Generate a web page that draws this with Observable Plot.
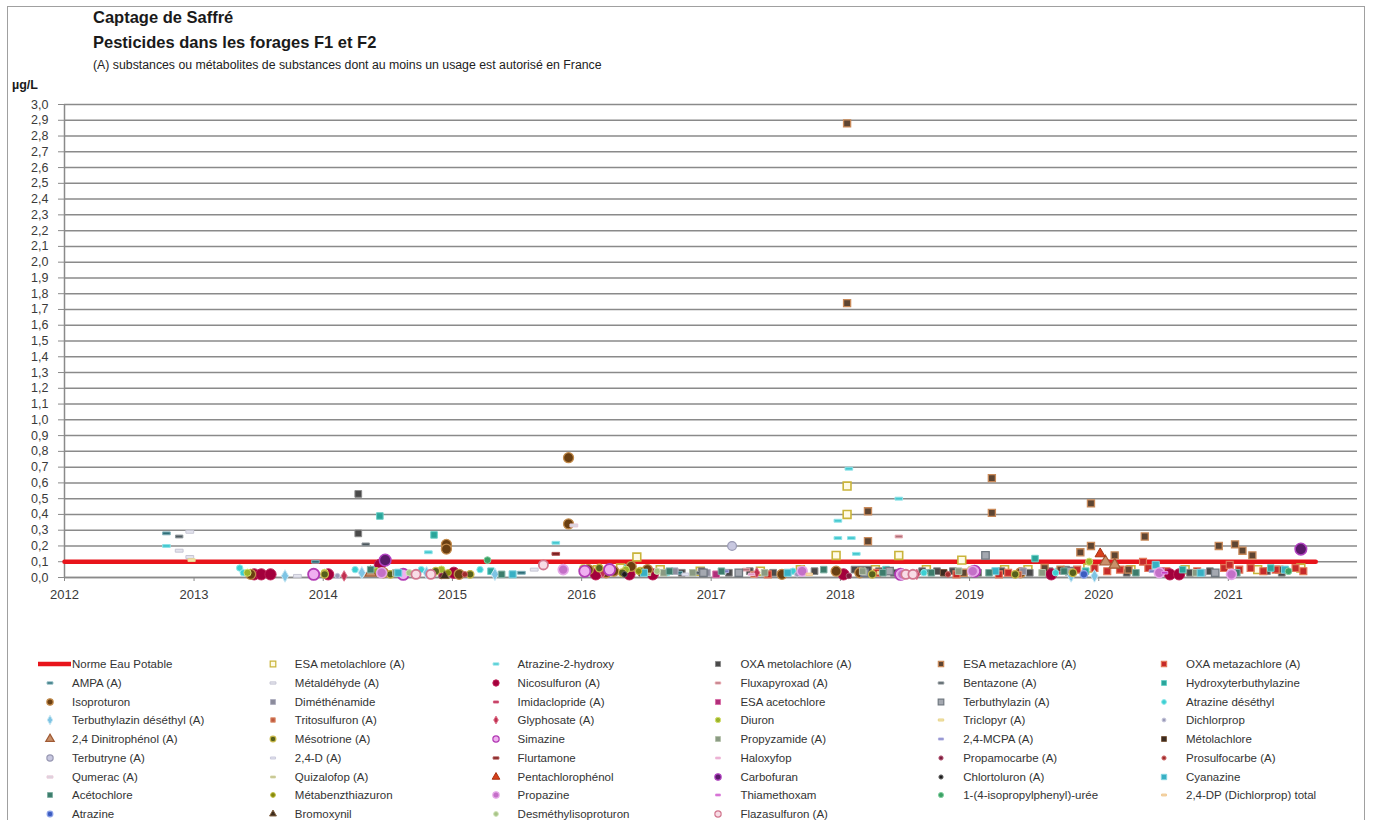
<!DOCTYPE html>
<html><head><meta charset="utf-8">
<script src="https://cdn.jsdelivr.net/npm/d3@7"></script>
<script src="https://cdn.jsdelivr.net/npm/@observablehq/plot@0.6"></script>
<style>
body{margin:0;background:#fff;font-family:"Liberation Sans",Arial,sans-serif;}
#wrap{position:relative;width:1373px;height:820px;overflow:hidden;background:#fff;}
#frame{position:absolute;left:7px;top:6px;width:1358px;height:830px;border:1.5px solid #a0a0a0;box-sizing:border-box;}
.t{position:absolute;left:93px;font-weight:bold;font-size:16.5px;color:#1a1a1a;white-space:nowrap;line-height:19px;}
.s{position:absolute;left:93px;font-size:12.3px;color:#222;white-space:nowrap;line-height:15px;}
.u{position:absolute;left:12px;font-weight:bold;font-size:12.5px;color:#1a1a1a;line-height:15px;}
#chart{position:absolute;left:0;top:80px;}
.li{position:absolute;height:16px;white-space:nowrap;font-size:11.5px;color:#333;line-height:16px;}
.li svg{position:absolute;top:1px;}
.li span{position:absolute;}
</style></head>
<body>
<div id="wrap">
<div id="frame"></div>
<div class="t" style="top:8px">Captage de Saffré</div>
<div class="t" style="top:33px">Pesticides dans les forages F1 et F2</div>
<div class="s" style="top:58px">(A) substances ou métabolites de substances dont au moins un usage est autorisé en France</div>
<div class="u" style="top:78px">µg/L</div>
<div id="chart"></div>
<div id="legend"></div>
</div>
<script>
// ---------- data ----------
const yearLabels = ["2012","2013","2014","2015","2016","2017","2018","2019","2020","2021"];
const yTickValues = [0,0.1,0.2,0.3,0.4,0.5,0.6,0.7,0.8,0.9,1.0,1.1,1.2,1.3,1.4,1.5,1.6,1.7,1.8,1.9,2.0,2.1,2.2,2.3,2.4,2.5,2.6,2.7,2.8,2.9,3.0];

const normeEauPotable = [["2012-01-01",0.1],["2021-09-05",0.1]];
const esaMetolachlore = [["2016-02-15",0.05],["2016-04-20",0.06],["2016-06-05",0.13],["2016-08-10",0.05],["2016-12-01",0.04],["2017-05-20",0.04],["2017-09-10",0.05],["2017-12-20",0.14],["2018-01-20",0.40],["2018-01-20",0.58],["2018-04-10",0.05],["2018-06-15",0.14],["2018-09-01",0.05],["2018-12-10",0.11],["2019-04-10",0.05],["2019-06-15",0.05],["2019-12-01",0.06],["2020-04-01",0.05],["2020-09-01",0.05],["2021-03-25",0.05],["2021-07-25",0.06]];
const atrazine2Hydroxy = [["2012-10-15",0.20],["2014-10-25",0.16],["2015-10-20",0.22],["2017-12-25",0.36],["2017-12-25",0.25],["2018-01-25",0.69],["2018-02-01",0.25],["2018-02-15",0.15],["2018-06-15",0.50],["2019-09-10",0.05]];
const oxaMetolachlore = [["2014-04-10",0.53],["2014-04-10",0.28],["2016-10-10",0.03],["2016-12-05",0.04],["2017-02-20",0.03],["2017-04-20",0.04],["2017-06-25",0.03],["2017-10-20",0.04],["2018-02-10",0.05],["2018-03-01",0.05],["2018-03-20",0.05],["2018-04-20",0.04],["2018-06-01",0.03],["2018-08-20",0.04],["2018-10-01",0.04],["2018-11-15",0.04],["2019-01-25",0.03],["2019-04-01",0.04],["2019-06-20",0.03],["2019-08-15",0.04],["2019-10-01",0.05],["2020-03-20",0.03],["2020-09-15",0.03],["2020-11-10",0.04],["2021-04-20",0.04],["2021-06-01",0.03]];
const esaMetazachlore = [["2018-01-20",2.88],["2018-01-20",1.74],["2018-03-20",0.42],["2018-03-20",0.23],["2018-12-15",0.03],["2019-03-05",0.63],["2019-03-05",0.41],["2019-08-01",0.06],["2019-09-15",0.05],["2019-11-10",0.16],["2019-12-10",0.47],["2019-12-10",0.20],["2020-02-15",0.14],["2020-03-25",0.05],["2020-05-10",0.26],["2020-12-05",0.20],["2021-01-20",0.21],["2021-02-10",0.17],["2021-03-10",0.14],["2021-05-25",0.05]];
const oxaMetazachlore = [["2017-06-10",0.02],["2018-04-15",0.03],["2018-11-25",0.02],["2019-03-25",0.02],["2019-04-20",0.03],["2019-11-01",0.05],["2019-12-20",0.06],["2020-01-25",0.04],["2020-03-01",0.05],["2020-05-05",0.10],["2020-05-20",0.06],["2020-07-10",0.04],["2020-10-05",0.04],["2020-12-20",0.06],["2021-01-05",0.08],["2021-02-01",0.05],["2021-03-05",0.06],["2021-04-10",0.04],["2021-05-15",0.05],["2021-07-10",0.06],["2021-08-01",0.04]];
const ampa = [["2012-10-15",0.28],["2013-12-10",0.10],["2015-07-15",0.03],["2016-10-01",0.03],["2018-09-01",0.04]];
const metaldehyde = [["2012-11-20",0.17],["2012-12-20",0.29],["2012-12-20",0.13],["2013-10-20",0.01],["2015-08-20",0.05],["2017-02-01",0.03]];
const nicosulfuron = [["2013-06-20",0.02],["2013-07-10",0.02],["2013-08-05",0.02],["2014-01-15",0.02],["2014-06-10",0.08],["2015-01-05",0.03],["2016-02-10",0.02],["2016-05-15",0.02],["2016-07-20",0.02],["2018-01-10",0.02],["2019-08-20",0.02],["2020-07-20",0.02],["2020-08-15",0.02]];
const fluxapyroxad = [["2017-04-10",0.05],["2018-06-15",0.26]];
const bentazone = [["2012-11-20",0.26],["2014-05-01",0.21],["2016-11-20",0.03]];
const hydroxyterbuthylazine = [["2014-06-10",0.39],["2014-11-10",0.27],["2015-04-20",0.04],["2016-05-10",0.06],["2018-05-10",0.05],["2019-07-05",0.12],["2019-11-25",0.04],["2020-08-25",0.05],["2021-05-01",0.06]];
const isoproturon = [["2013-06-10",0.02],["2014-06-20",0.03],["2014-12-15",0.21],["2014-12-15",0.18],["2015-01-20",0.02],["2015-11-25",0.76],["2015-11-25",0.34],["2016-01-20",0.05],["2016-03-10",0.03],["2016-04-01",0.04],["2016-05-20",0.07],["2016-07-05",0.05],["2017-07-20",0.02],["2017-12-20",0.04],["2018-02-25",0.03],["2019-05-25",0.03]];
const dimethenamide = [["2016-09-20",0.04],["2016-12-20",0.03],["2019-06-01",0.04],["2020-10-20",0.03]];
const imidaclopride = [["2018-07-01",0.03],["2019-09-20",0.03]];
const esaAcetochlore = [["2017-01-15",0.02],["2019-01-20",0.04],["2020-06-25",0.04]];
const terbuthylazin = [["2016-12-10",0.03],["2017-03-20",0.03],["2018-03-10",0.03],["2018-05-20",0.04],["2019-02-15",0.14],["2019-10-10",0.04],["2020-11-25",0.03]];
const atrazineDesethyl = [["2013-05-10",0.06],["2013-05-20",0.03],["2014-04-01",0.05],["2014-05-20",0.05],["2014-10-05",0.05],["2015-03-20",0.05],["2016-08-30",0.03],["2017-08-20",0.04],["2018-08-25",0.03],["2019-09-01",0.03]];
const terbuthylazinDesethyl = [["2013-09-15",0.01],["2014-04-20",0.03],["2014-10-20",0.03],["2015-05-01",0.02],["2019-10-15",0.01],["2019-12-20",0.01]];
const tritosulfuron = [["2017-05-01",0.02],["2019-05-20",0.02]];
const glyphosate = [["2014-03-01",0.01],["2016-03-01",0.03],["2017-05-10",0.03],["2018-08-05",0.02]];
const diuron = [["2013-06-01",0.03],["2014-01-05",0.03],["2014-06-01",0.04],["2014-12-01",0.05],["2016-01-05",0.06],["2016-05-05",0.05],["2019-01-05",0.05],["2019-12-05",0.10]];
const triclopyr = [["2012-12-25",0.11],["2018-04-25",0.03]];
const dichlorprop = [["2014-02-10",0.01],["2017-09-01",0.02]];
const dinitrophenol = [["2014-05-15",0.03],["2020-01-20",0.10],["2020-02-15",0.08]];
const mesotrione = [["2014-01-05",0.02],["2014-07-10",0.02],["2014-11-15",0.04],["2015-02-20",0.02],["2016-02-20",0.06],["2016-04-25",0.03],["2016-06-15",0.04],["2018-04-01",0.02],["2019-05-10",0.02],["2019-10-20",0.03]];
const simazine = [["2013-12-05",0.02],["2014-08-15",0.02],["2016-01-10",0.04],["2016-03-20",0.05],["2018-06-20",0.02],["2019-01-15",0.04]];
const propyzamide = [["2014-07-25",0.03],["2016-08-20",0.03],["2016-11-10",0.03],["2017-06-01",0.03],["2018-03-05",0.04],["2018-12-01",0.04],["2019-07-25",0.03],["2020-10-01",0.03]];
const mcpa = [["2017-02-10",0.04],["2018-07-20",0.02],["2020-06-01",0.04]];
const metolachlore = [["2016-06-20",0.03],["2018-10-20",0.03]];
const terbutryne = [["2017-03-01",0.20]];
const d24 = [["2016-10-20",0.02]];
const flurtamone = [["2015-10-20",0.15]];
const haloxyfop = [["2017-04-25",0.02]];
const propamocarbe = [["2014-12-01",0.01],["2018-01-25",0.01]];
const prosulfocarbe = [["2015-02-05",0.02],["2018-11-01",0.02]];
const qumerac = [["2015-12-10",0.33],["2018-07-15",0.03]];
const quizalofop = [["2016-07-05",0.02]];
const pentachlorophenol = [["2020-01-05",0.15]];
const carbofuran = [["2014-06-25",0.11],["2021-07-25",0.18]];
const chlortoluron = [["2016-05-01",0.02]];
const cyanazine = [["2014-08-01",0.03],["2015-06-20",0.02],["2016-06-25",0.03],["2017-08-05",0.03],["2019-03-15",0.04],["2020-06-10",0.08],["2020-10-15",0.03],["2021-06-10",0.05]];
const acetochlore = [["2014-05-15",0.05],["2015-05-20",0.02],["2016-09-05",0.04],["2017-01-30",0.04],["2017-11-15",0.05],["2018-05-01",0.03],["2018-09-15",0.03],["2019-02-25",0.03],["2019-09-25",0.04],["2020-04-15",0.03],["2021-01-25",0.03]];
const metabenzthiazuron = [["2014-12-20",0.03],["2016-06-10",0.04]];
const propazine = [["2014-06-15",0.03],["2015-11-10",0.05],["2017-09-15",0.04],["2018-06-25",0.02],["2019-01-10",0.04],["2020-06-20",0.03],["2021-01-10",0.02]];
const thiamethoxam = [["2020-07-05",0.03]];
const isopropylphenylUree = [["2015-04-10",0.11],["2021-06-20",0.04]];
const dichlorpropTotal = [["2017-10-05",0.02]];
const atrazine = [["2019-11-20",0.02]];
const bromoxynil = [["2014-12-10",0.01]];
const desmethylisoproturon = [["2014-09-01",0.03],["2016-08-01",0.04]];
const flazasulfuron = [["2014-09-20",0.02],["2014-11-01",0.02],["2015-09-15",0.08],["2018-07-05",0.02],["2018-07-25",0.02]];

// ---------- styles ----------
const dash = {draw(ctx, size){ const r = Math.sqrt(size/Math.PI); ctx.rect(-r, -r*0.38, 2*r, r*0.76); }};
const S = (sym, fill, stroke, r, sw) => ({sym, fill, stroke, r, sw: sw ?? 1});
const series = [
  ["ESA metolachlore (A)", esaMetolachlore, S("square","#fffbe6","#c9b43a",4.4,1.6)],
  ["Atrazine-2-hydroxy", atrazine2Hydroxy, S(dash,"#45c8cf","#8ee3e8",3.8)],
  ["OXA metolachlore (A)", oxaMetolachlore, S("square","#4a4a4a","#8a8a8a",3.8)],
  ["ESA metazachlore (A)", esaMetazachlore, S("square","#5e4532","#c98a5a",4.0,1.3)],
  ["OXA metazachlore (A)", oxaMetazachlore, S("square","#c62a2a","#e3785a",3.9,1.2)],
  ["AMPA (A)", ampa, S(dash,"#2e6e78","#7fb0b8",3.8)],
  ["Métaldéhyde (A)", metaldehyde, S(dash,"#e4e4ee","#c6c6d4",3.9)],
  ["Nicosulfuron (A)", nicosulfuron, S("circle","#a3003c","#c02058",5.6)],
  ["Fluxapyroxad (A)", fluxapyroxad, S(dash,"#b0707a","#e8a8b0",3.6)],
  ["Bentazone (A)", bentazone, S(dash,"#4e5a60","#90989c",3.7)],
  ["Hydroxyterbuthylazine", hydroxyterbuthylazine, S("square","#2aa59a","#6cd0c8",3.7)],
  ["Isoproturon", isoproturon, S("circle","#6a3f12","#c28a4a",5.0,1.3)],
  ["Diméthénamide", dimethenamide, S("square","#8b8b9b","#b0b0c0",3.7)],
  ["Imidaclopride (A)", imidaclopride, S(dash,"#b0204a","#d86080",3.4)],
  ["ESA acetochlore", esaAcetochlore, S("square","#b02e7a","#d870a8",3.8)],
  ["Terbuthylazin (A)", terbuthylazin, S("square","#a4a8b0","#707880",4.2,1.3)],
  ["Atrazine déséthyl", atrazineDesethyl, S("circle","#3ccfd2","#90e8ea",3.2)],
  ["Terbuthylazin déséthyl (A)", terbuthylazinDesethyl, S("diamond","#7ec4e4","#c8e8f4",3.8)],
  ["Tritosulfuron (A)", tritosulfuron, S("square","#c05a3e","#e09878",3.4)],
  ["Glyphosate (A)", glyphosate, S("diamond","#c03050","#e07890",3.2)],
  ["Diuron", diuron, S("circle","#9cb42c","#d4e070",3.6)],
  ["Triclopyr (A)", triclopyr, S(dash,"#f2e4a8","#e8d48c",3.6)],
  ["Dichlorprop", dichlorprop, S("circle","#9a9ab8","#c8c8dc",2.6)],
  ["2,4 Dinitrophénol (A)", dinitrophenol, S("triangle","#c8906a","#a05a34",4.2,1.2)],
  ["Mésotrione (A)", mesotrione, S("circle","#56601c","#c8b848",3.8,1.3)],
  ["Simazine", simazine, S("circle","#f0b0f0","#b23cb4",5.6,1.8)],
  ["Propyzamide (A)", propyzamide, S("square","#8a9a82","#b4c2ac",3.7)],
  ["2,4-MCPA (A)", mcpa, S(dash,"#7c7cc4","#b0b0e0",3.4)],
  ["Métolachlore", metolachlore, S("square","#3a2a20","#7a5a40",3.7)],
  ["Terbutryne (A)", terbutryne, S("circle","#c8c8e0","#9a9ab4",4.4,1.2)],
  ["2,4-D (A)", d24, S(dash,"#e4e4f0","#cacadc",3.4)],
  ["Flurtamone", flurtamone, S(dash,"#7a2020","#b05050",3.8)],
  ["Haloxyfop", haloxyfop, S(dash,"#e494c4","#f0c0dc",3.2)],
  ["Propamocarbe (A)", propamocarbe, S("circle","#7c1c3c","#b05070",2.8)],
  ["Prosulfocarbe (A)", prosulfocarbe, S("circle","#a02c2c","#d06a6a",2.8)],
  ["Qumerac (A)", qumerac, S(dash,"#d8d8e0","#e8c8d8",3.9)],
  ["Quizalofop (A)", quizalofop, S(dash,"#b4b474","#d4d4a4",3.2)],
  ["Pentachlorophénol", pentachlorophenol, S("triangle","#d8401c","#a83010",3.8)],
  ["Carbofuran", carbofuran, S("circle","#5a1a6a","#b040c0",5.8,1.5)],
  ["Chlortoluron (A)", chlortoluron, S("circle","#1c1c1c","#606060",2.8)],
  ["Cyanazine", cyanazine, S("square","#38b0c4","#80d4e0",4.0)],
  ["Acétochlore", acetochlore, S("square","#3c7c6c","#80b0a4",3.7)],
  ["Métabenzthiazuron", metabenzthiazuron, S("circle","#86880e","#c0c040",3.2)],
  ["Propazine", propazine, S("circle","#c470c8","#e6a8e8",5.0,1.6)],
  ["Thiamethoxam", thiamethoxam, S(dash,"#c43cc0","#e090e0",3.2)],
  ["1-(4-isopropylphenyl)-urée", isopropylphenylUree, S("circle","#3ca064","#80d0a0",3.4)],
  ["2,4-DP (Dichlorprop) total", dichlorpropTotal, S(dash,"#f4d8b0","#f0c890",3.2)],
  ["Atrazine", atrazine, S("circle","#3c5cc0","#8aa0e8",3.8,1.4)],
  ["Bromoxynil", bromoxynil, S("triangle","#3c2c1c","#806040",3.4)],
  ["Desméthylisoproturon", desmethylisoproturon, S("circle","#a8c488","#d0e4b8",3.2)],
  ["Flazasulfuron (A)", flazasulfuron, S("circle","#f8dde6","#d27890",4.6,1.8)]
];

const parse = d3.utcParse("%Y-%m-%d");
const toRows = arr => arr.map(([d, v]) => ({date: parse(d), value: v}));
const yearTicks = yearLabels.map(y => parse(y + "-01-01"));

const marks = [
  Plot.gridY(yTickValues, {stroke: "#8a8a8a", strokeOpacity: 1, strokeWidth: 1.5}),
  Plot.axisY({ticks: yTickValues, tickFormat: d => d.toFixed(1).replace(".", ","), tickSize: 6, tickPadding: 10, fontSize: 12.5, stroke: "#8a8a8a", fill: "#3a3a3a"}),
  Plot.axisX({ticks: yearTicks, tickFormat: "%Y", tickSize: 4, tickPadding: 8, fontSize: 13, stroke: "#8a8a8a", fill: "#3a3a3a"}),
  Plot.ruleX([parse("2012-01-01")], {stroke: "#8a8a8a", strokeWidth: 1.5}),
  Plot.ruleY([0], {stroke: "#8a8a8a", strokeWidth: 1.5}),
  Plot.line(toRows(normeEauPotable), {x: "date", y: "value", stroke: "#e8141b", strokeWidth: 4.5})
];
for (const [name, data, st] of series) {
  marks.push(Plot.dot(toRows(data), {x: "date", y: "value", symbol: st.sym, r: st.r, fill: st.fill, stroke: st.stroke, strokeWidth: st.sw, fillOpacity: 1}));
}

const chart = Plot.plot({
  width: 1373, height: 520,
  marginTop: 24, marginBottom: 23, marginLeft: 64, marginRight: 16,
  style: {fontFamily: "'Liberation Sans', Arial, sans-serif", background: "transparent", overflow: "visible"},
  x: {type: "utc", domain: [parse("2012-01-01"), parse("2022-01-01")], label: null},
  y: {domain: [0, 3], label: null},
  marks
});
document.getElementById("chart").appendChild(chart);

// ---------- legend ----------
const legend = document.getElementById("legend");
const legendItems = [["Norme Eau Potable", null, null], ...series];
legendItems.forEach(([name, data, st], i) => {
  const col = i % 6, row = Math.floor(i / 6);
  const cy = 664 + row * 18.75;
  const div = document.createElement("div");
  div.className = "li";
  div.style.left = (38 + col * 222.8) + "px";
  div.style.top = (cy - 8) + "px";
  const textLeft = 34;
  let svg;
  if (!st) {
    svg = `<svg width="34" height="14" style="left:0"><line x1="0" x2="33" y1="7" y2="7" stroke="#e8141b" stroke-width="4.5"/></svg>`;
  } else {
    const rr = Math.min(st.r, 4.2) * 0.75;
    const type = typeof st.sym === "string" ? ({square: d3.symbolSquare, circle: d3.symbolCircle, triangle: d3.symbolTriangle, diamond: d3.symbolDiamond})[st.sym] : st.sym;
    const d = d3.symbol(type, Math.PI * rr * rr)();
    svg = `<svg width="24" height="14" style="left:0"><path d="${d}" transform="translate(12,7)" fill="${st.fill}" stroke="${st.stroke}" stroke-width="${Math.min(st.sw,1.2)}"/></svg>`;
  }
  div.innerHTML = svg + `<span style="left:${textLeft}px">${name}</span>`;
  legend.appendChild(div);
});
</script>
</body></html>
